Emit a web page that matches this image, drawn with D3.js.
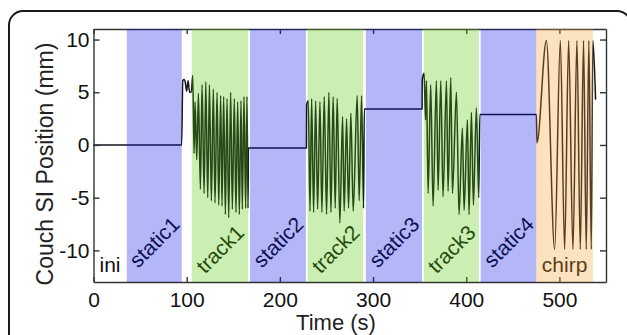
<!DOCTYPE html>
<html>
<head>
<meta charset="utf-8">
<script src="https://cdn.jsdelivr.net/npm/d3@7"></script>
<style>
  body { margin: 0; background: #fff; }
  svg { display: block; }
</style>
</head>
<body>
<svg id="chart" width="627" height="335" font-family="'Liberation Sans', Arial, Helvetica, sans-serif"></svg>
<script>
// protocol phases (seconds)
const phaseNames = ['ini', 'static1', 'track1', 'static2', 'track2', 'static3', 'track3', 'static4', 'chirp'];
const phaseKinds = ['none', 'static', 'track', 'static', 'track', 'static', 'track', 'static', 'chirp'];
const phaseStart = [0, 35.7, 105.4, 168, 229.8, 292.3, 354.4, 415.5, 475.2];
const phaseEnd = [35.7, 94.7, 166, 228, 289.4, 352.6, 413.7, 475.2, 536];

// couch trace, [time s, position mm]
const leadIn = [[0, 0], [94.6, 0], [95.8, 6.1], [97.2, 6.2], [98.4, 6.0], [99.9, 5.1], [101.5, 6.1],
	[103.1, 5.0], [104.9, 5.0], [106.5, 6.6]];
const track1 = [[107.9, -0.8], [109.0, 4.1], [110.8, -1.4], [112.6, 4.9], [114.7, -4.2], [116.5, 5.7],
	[118.7, -4.6], [120.5, 6.0], [122.6, -5.0], [124.4, 5.7], [126.5, -5.3], [128.6, 5.3], [130.4, -5.5],
	[132.6, 5.0], [134.4, -5.7], [136.5, 4.7], [137.9, -5.8], [139.7, 4.6], [141.5, -6.6], [143.3, 4.4],
	[145.1, -6.9], [147.2, 5.0], [149.0, -6.1], [151.1, 4.4], [152.9, -6.4], [154.7, 4.1], [156.5, -6.6],
	[158.3, 4.2], [159.7, -6.1], [161.5, 4.6], [163.3, -6.0], [164.7, 4.6], [165.8, -6.0]];
const static2 = [[166.3, -0.3], [228.5, -0.3]];
const track2 = [[228.7, 3.8], [230.5, 4.2], [232.3, -6.3], [234.1, 4.4], [236.2, -6.4], [238.4, 4.2],
	[240.5, -6.1], [243.0, 4.1], [245.1, -6.4], [247.6, 4.6], [250.1, -6.6], [252.6, 5.0], [254.8, -6.4],
	[257.2, 4.6], [259.4, -6.0], [261.5, 4.4], [264.4, -7.4], [267.3, 2.7], [269.0, -6.3], [271.6, 2.5],
	[273.7, -6.0], [276.2, 3.0], [278.7, -6.3], [283.0, 4.7], [285.1, -5.3], [287.7, 4.7], [289.8, -6.0]];
const static3 = [[290.6, 3.4], [352.6, 3.4]];
const track3 = [[352.8, 6.2], [354.8, 6.8], [356.3, 2.4], [357.3, 6.1], [359.1, -4.6], [361.9, 5.7],
	[364.4, -5.8], [368.0, 6.1], [369.8, -4.3], [372.7, 6.1], [375.1, -4.9], [378.8, 6.1], [380.5, -4.4],
	[383.4, 6.4], [385.2, -4.6], [389.5, 5.0], [392.3, -6.6], [395.9, 1.6], [397.7, -6.2], [401.3, 2.4],
	[403.0, -6.6], [405.6, 3.1], [407.7, -5.7], [410.9, 3.5], [413.4, -5.0]];
const static4 = [[414.6, 2.9], [475.3, 2.9]];
const chirp = [[475.9, 0.2], [486.0, 9.9], [494.9, -9.9], [501.0, 9.9], [505.6, -9.9], [509.9, 9.9],
	[514.5, -9.9], [518.8, 9.9], [522.4, -9.9], [525.9, 9.9], [528.8, -9.9], [531.6, 9.9], [534.2, -9.9],
	[535.9, 9.9], [538.8, 4.3]];

const xTicks = [0, 100, 200, 300, 400, 500];
const yTicks = [-10, -5, 0, 5, 10];

const phaseColors = { static: '#0812e4', track: '#52c602', chirp: '#f89e2a' };

const svg = d3.select('#chart');

const x = d3.scaleLinear().domain([0, 550]).range([93.5, 606]);
const y = d3.scaleLinear().domain([-13, 11]).range([282, 29]);

// outer rounded frame
svg.append('rect')
	.attr('x', 9)
	.attr('y', 11)
	.attr('width', 622)
	.attr('height', 400)
	.attr('rx', 14)
	.attr('fill', 'none')
	.attr('stroke', '#1a1a1a')
	.attr('stroke-width', 2);

const trace = [].concat(leadIn, track1, static2, track2, static3, track3, static4, chirp);

const line = d3.line()
	.x(d => x(d[0]))
	.y(d => y(d[1]))
	.curve(d3.curveMonotoneX);

svg.append('path')
	.datum(trace)
	.attr('fill', 'none')
	.attr('stroke', '#141420')
	.attr('stroke-width', 1.5)
	.attr('stroke-linejoin', 'round')
	.attr('d', line);

// axes: ticks point inward on all four sides
const [x0, x1] = x.range();
const [y0, y1] = y.range();
const plain = d => String(d);

svg.append('g')
	.attr('transform', `translate(0,${y0})`)
	.call(d3.axisBottom(x).tickValues(xTicks).tickFormat(plain).tickSizeInner(-5).tickSizeOuter(0).tickPadding(10));

svg.append('g')
	.attr('transform', `translate(0,${y1})`)
	.call(d3.axisTop(x).tickValues(xTicks).tickSizeInner(-5).tickSizeOuter(0).tickFormat(''));

svg.append('g')
	.attr('transform', `translate(${x0},0)`)
	.call(d3.axisLeft(y).tickValues(yTicks).tickFormat(plain).tickSizeInner(-6).tickSizeOuter(0).tickPadding(4));

svg.append('g')
	.attr('transform', `translate(${x1},0)`)
	.call(d3.axisRight(y).tickValues(yTicks).tickSizeInner(-6).tickSizeOuter(0).tickFormat(''));

svg.selectAll('g').attr('font-family', null).attr('font-size', null);
svg.selectAll('.domain').attr('stroke', '#333').attr('stroke-width', 1.4);
svg.selectAll('.tick line').attr('stroke', '#333').attr('stroke-width', 1.4);
svg.selectAll('.tick text').attr('font-size', 21).attr('fill', '#111');

// phase labels
const phases = phaseNames.map((name, i) => ({
	name, kind: phaseKinds[i], start: phaseStart[i], end: phaseEnd[i]
}));

svg.append('g')
	.selectAll('text')
	.data(phases)
	.enter().append('text')
	.attr('font-size', 21)
	.attr('fill', '#111')
	.attr('text-anchor', d => d.kind === 'none' ? 'start' : 'middle')
	.attr('dominant-baseline', d => (d.kind === 'static' || d.kind === 'track') ? 'central' : 'auto')
	.attr('transform', d => {
		if (d.kind === 'none') return `translate(${x(d.start) + 6},272)`;
		const cx = (x(d.start) + x(d.end)) / 2;
		if (d.kind === 'chirp') return `translate(${cx},272)`;
		const cy = d.kind === 'static' ? 242 : 249;
		return `translate(${cx},${cy}) rotate(-45)`;
	})
	.text(d => d.name);

// translucent phase bands laid over trace and labels
svg.append('g')
	.selectAll('rect')
	.data(phases.filter(d => d.kind !== 'none'))
	.enter().append('rect')
	.attr('x', d => x(d.start))
	.attr('y', y1)
	.attr('width', d => x(d.end) - x(d.start))
	.attr('height', y0 - y1)
	.attr('fill', d => phaseColors[d.kind])
	.attr('fill-opacity', 0.3);

// axis titles
svg.append('text')
	.attr('x', 336)
	.attr('y', 330)
	.attr('text-anchor', 'middle')
	.attr('font-size', 22)
	.attr('fill', '#222')
	.text('Time (s)');

svg.append('text')
	.attr('transform', 'translate(53,164) rotate(-90)')
	.attr('text-anchor', 'middle')
	.attr('font-size', 23)
	.attr('fill', '#222')
	.text('Couch SI Position (mm)');
</script>
</body>
</html>
